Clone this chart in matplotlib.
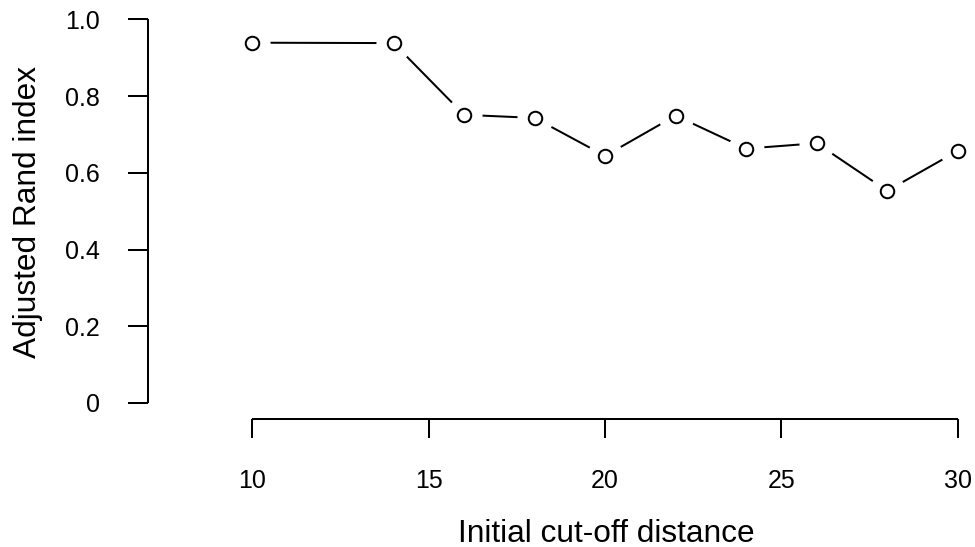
import matplotlib
matplotlib.use("Agg")
import matplotlib.pyplot as plt

# Data
cutoff = [10, 14, 16, 18, 20, 22, 24, 26, 28, 30]
ari = [0.939, 0.938, 0.751, 0.743, 0.644, 0.749, 0.663, 0.677, 0.553, 0.657]
xticks = [10, 15, 20, 25, 30]
yticks = [0, 0.2, 0.4, 0.6, 0.8, 1.0]
ytick_labels = ["0", "0.2", "0.4", "0.6", "0.8", "1.0"]

plt.rcParams['font.family'] = ['Liberation Sans', 'DejaVu Sans']

W, H = 975, 547
fig = plt.figure(figsize=(W / 100, H / 100), dpi=100)

ax_left_px = 147.7
ax_bottom_px = 418.5
ax = fig.add_axes([ax_left_px / W, (H - ax_bottom_px) / H,
                   (W - ax_left_px) / W, ax_bottom_px / H])

ax.set_xlim(7.028, 30.49)
ax.set_ylim(-0.0404, 1.0503)
ax.set_facecolor('none')

lw = 1.45
ax.plot(cutoff, ari, color='black', lw=lw, zorder=2, solid_capstyle='butt')
ax.plot(cutoff, ari, ls='none', marker='o', ms=26, mfc='white', mec='none', zorder=3)
ax.plot(cutoff, ari, ls='none', marker='o', ms=9.7, mfc='white', mec='black', mew=lw, zorder=4)

for s in ['top', 'right']:
    ax.spines[s].set_visible(False)
ax.spines['left'].set_bounds(0, 1.0)
ax.spines['bottom'].set_bounds(10, 30)
for s in ['left', 'bottom']:
    ax.spines[s].set_linewidth(lw)
    ax.spines[s].set_capstyle('butt')

ax.set_xticks(xticks)
ax.set_xticklabels([str(v) for v in xticks])
ax.set_yticks(yticks)
ax.set_yticklabels(ytick_labels)
ax.tick_params(axis='x', length=13.8, width=lw, pad=22.5, labelsize=18, direction='out')
ax.tick_params(axis='y', length=14.2, width=lw, pad=20, labelsize=18, direction='out')

fig.text(606 / W, (H - 541.7) / H, "Initial cut-off distance", ha='center', va='baseline',
         fontsize=22.8)
fig.text(36.5 / W, (H - 211.5) / H, "Adjusted Rand index", ha='center', va='baseline',
         rotation=90, rotation_mode='anchor', fontsize=22.8)

fig.savefig("out.png", dpi=100)
